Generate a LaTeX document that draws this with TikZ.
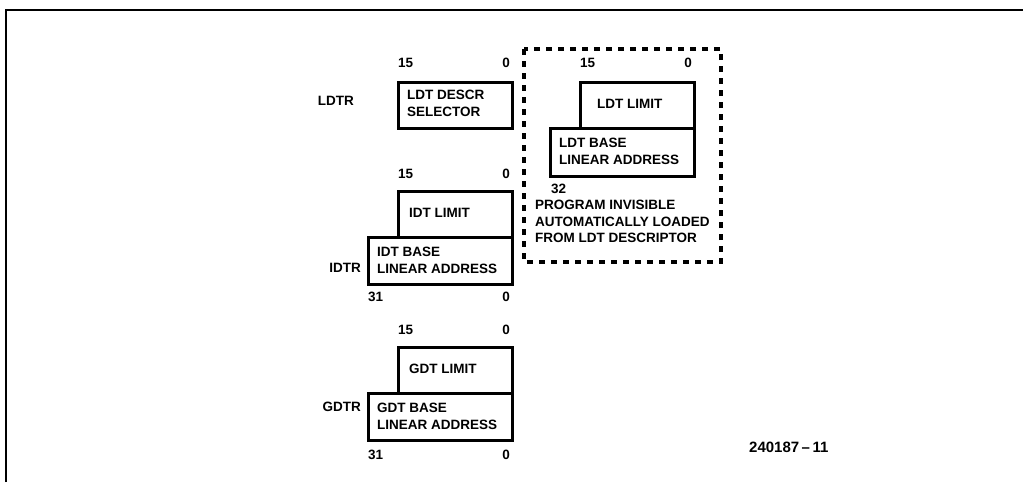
\documentclass[tikz,border=0pt]{standalone}
\usepackage{fontspec}
\setmainfont{Liberation Sans}
\begin{document}
\begin{tikzpicture}[x=1pt,y=-1pt,
  regbox/.style={draw=black, line width=2.8pt, fill=none, inner sep=0pt, anchor=north west},
  lbl/.style={font=\bfseries\fontsize{13.5}{17}\selectfont, inner sep=0pt, align=left},
  bit/.style={font=\bfseries\fontsize{13.5}{15}\selectfont, inner sep=0pt},
  frame/.style={draw=black, line width=1.5pt},
  dbox/.style={draw=black, line width=3.6pt, dash pattern=on 6pt off 6pt}]
\useasboundingbox (0,0) rectangle (1025,482);
% frame
\coordinate (fa) at (6,482);
\coordinate (fb) at (6,10);
\coordinate (fc) at (1023,10);
\draw[frame] (fa) -- (fb) -- (fc);

% LDTR
\node[lbl, anchor=east] (ldtrl) at (354,101) {LDTR};
\node[bit, anchor=west] (l15) at (398,63) {15};
\node[bit, anchor=east] (l0) at (510,63) {0};
\node[regbox, minimum width=114pt, minimum height=46pt] (ldtr) at (397,81) {};
\node[lbl, anchor=west] (ldtrt) at (407,103.5) {LDT DESCR\\SELECTOR};

% IDTR
\node[bit, anchor=west] (i15) at (398,174) {15};
\node[bit, anchor=east] (i0) at (510,174) {0};
\node[regbox, minimum width=114pt, minimum height=46pt] (ilim) at (397,190) {};
\node[lbl, anchor=west] (ilimt) at (409,213) {IDT LIMIT};
\node[regbox, minimum width=144pt, minimum height=47pt] (ibase) at (367,236) {};
\node[lbl, anchor=west] (ibaset) at (377,260) {IDT BASE\\LINEAR ADDRESS};
\node[lbl, anchor=east] (idtrl) at (361,268) {IDTR};
\node[bit, anchor=west] (i31) at (368,297) {31};
\node[bit, anchor=east] (i0b) at (510,297) {0};

% GDTR
\node[bit, anchor=west] (g15) at (398,330) {15};
\node[bit, anchor=east] (g0) at (510,330) {0};
\node[regbox, minimum width=114pt, minimum height=46pt] (glim) at (397,346) {};
\node[lbl, anchor=west] (glimt) at (409,369) {GDT LIMIT};
\node[regbox, minimum width=144pt, minimum height=47pt] (gbase) at (367,392) {};
\node[lbl, anchor=west] (gbaset) at (377,416) {GDT BASE\\LINEAR ADDRESS};
\node[lbl, anchor=east] (gdtrl) at (361,407) {GDTR};
\node[bit, anchor=west] (g31) at (368,455) {31};
\node[bit, anchor=east] (g0b) at (510,455) {0};

% LDT cache (dashed)
\draw[dbox] (524,49) rectangle (721,262);
\node[bit, anchor=west] (c15) at (580,63) {15};
\node[bit, anchor=east] (c0) at (692,63) {0};
\node[regbox, minimum width=114pt, minimum height=46pt] (clim) at (579,81) {};
\node[lbl, anchor=west] (climt) at (597,104) {LDT LIMIT};
\node[regbox, minimum width=144pt, minimum height=48pt] (cbase) at (549,127) {};
\node[lbl, anchor=west] (cbaset) at (559,151) {LDT BASE\\LINEAR ADDRESS};
\node[bit, anchor=west] (c32) at (551,189) {32};
\node[lbl, anchor=north west, font=\bfseries\fontsize{13.5}{16.5}\selectfont] (note) at (535,200) {PROGRAM INVISIBLE\\AUTOMATICALLY LOADED\\FROM LDT DESCRIPTOR};

\node[bit, anchor=west, font=\bfseries\fontsize{15}{17}\selectfont] (fig) at (749,447) {240187\,--\,11};
\end{tikzpicture}
\end{document}
